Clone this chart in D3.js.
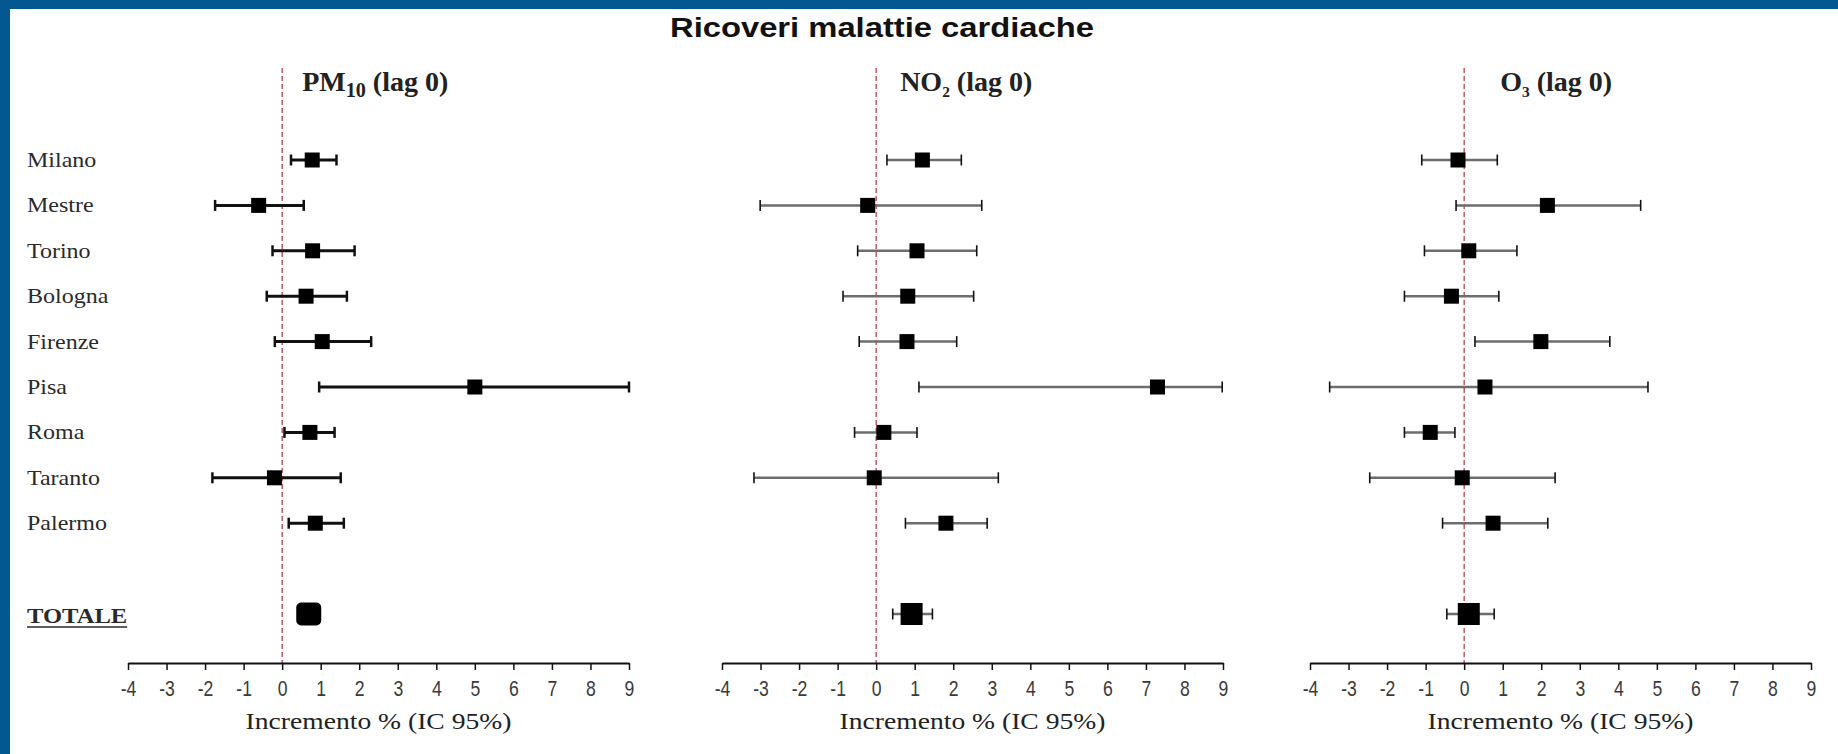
<!DOCTYPE html>
<html>
<head>
<meta charset="utf-8">
<script src="https://cdn.jsdelivr.net/npm/d3@7"></script>
<style>
    body { margin: 0; background: #fff; }
    svg { display: block; }
</style>
</head>
<body>
<div id="chart"></div>
<script>
// Values: % increase with 95% CI, lag 0
const cities = ["Milano", "Mestre", "Torino", "Bologna", "Firenze", "Pisa", "Roma", "Taranto", "Palermo", "TOTALE"];
const xTicks = [-4, -3, -2, -1, 0, 1, 2, 3, 4, 5, 6, 7, 8, 9];

const pm10Est = [0.78, -0.61, 0.79, 0.62, 1.04, 5.00, 0.72, -0.20, 0.86, 0.69];
const pm10Lo  = [0.23, -1.74, -0.25, -0.40, -0.19, 0.96, 0.06, -1.81, 0.17, 0.45];
const pm10Hi  = [1.41, 0.56, 1.88, 1.68, 2.31, 9.00, 1.36, 1.52, 1.60, 0.95];

const no2Est = [1.20, -0.22, 1.06, 0.82, 0.80, 7.30, 0.20, -0.05, 1.81, 0.92];
const no2Lo  = [0.28, -3.01, -0.48, -0.86, -0.44, 1.11, -0.56, -3.17, 0.76, 0.43];
const no2Hi  = [2.21, 2.74, 2.61, 2.53, 2.09, 8.98, 1.06, 3.17, 2.88, 1.46];

const o3Est = [-0.16, 2.16, 0.12, -0.33, 1.99, 0.54, -0.88, -0.05, 0.75, 0.12];
const o3Lo  = [-1.10, -0.21, -1.03, -1.55, 0.28, -3.49, -1.55, -2.45, -0.56, -0.45];
const o3Hi  = [0.86, 4.58, 1.37, 0.90, 3.78, 4.77, -0.24, 2.36, 2.17, 0.78];

const pollutants = ["PM", "NO", "O"];
const pollutantSubs = ["10", "2", "3"];
const lagText = " (lag 0)";
const chartTitle = "Ricoveri malattie cardiache";
const axisTitle = "Incremento % (IC 95%)";


// SETTINGS
const W = 1838, H = 754;
const BLUE = "#03598f";
const SERIF = "'Liberation Serif', 'Times New Roman', serif";
const SANS = "'Liberation Sans', Arial, sans-serif";
const AXIS_Y = 663;
// Horizontal stretch of the original slide text
const STRETCH = 1.2;

const panels = [
    { est: pm10Est, lo: pm10Lo, hi: pm10Hi, x0: 128, x1: 629, titleDx: 20, subSize: 0.72, heavy: true },
    { est: no2Est, lo: no2Lo, hi: no2Hi, x0: 722, x1: 1223, titleDx: 24, subSize: 0.55, heavy: false },
    { est: o3Est, lo: o3Lo, hi: o3Hi, x0: 1310, x1: 1811, titleDx: 36, subSize: 0.55, heavy: false }
];

// one empty slot between Palermo and TOTALE
const slots = cities.slice(0, 9).concat(["", "TOTALE"]);
const y = d3.scalePoint().domain(slots).range([160, 614]);

const svg = d3.select("#chart").append("svg")
    .attr("width", W)
    .attr("height", H);

svg.append("rect").attr("width", W).attr("height", H).attr("fill", "#fff");

// Slide frame: blue band on top and left
svg.append("rect").attr("x", 0).attr("y", 0).attr("width", W).attr("height", 9).attr("fill", BLUE);
svg.append("rect").attr("x", 0).attr("y", 0).attr("width", 10).attr("height", H).attr("fill", BLUE);

// Main title
svg.append("text")
    .attr("x", 882)
    .attr("y", 37)
    .attr("text-anchor", "middle")
    .attr("font-family", SANS)
    .attr("font-weight", "bold")
    .attr("font-size", 27)
    .attr("textLength", 424)
    .attr("lengthAdjust", "spacingAndGlyphs")
    .attr("fill", "#111")
    .text(chartTitle);

// City labels (only on the left)
const labels = svg.append("g").attr("class", "labels");
cities.forEach(function (c) {
    const isTot = c === "TOTALE";
    const t = labels.append("text")
        .attr("transform", "translate(27," + (y(c) + (isTot ? 9 : 7)) + ") scale(" + STRETCH + ",1)")
        .attr("font-family", SERIF)
        .attr("font-size", isTot ? 20.5 : 20)
        .attr("font-weight", isTot ? "bold" : "normal")
        .attr("fill", "#2a2a2a")
        .text(c);
    if (isTot) {
        const len = t.node().getComputedTextLength() * STRETCH;
        labels.append("line")
            .attr("x1", 27).attr("x2", 27 + len)
            .attr("y1", y(c) + 13).attr("y2", y(c) + 13)
            .attr("stroke", "#2a2a2a")
            .attr("stroke-width", 1.5);
    }
});

panels.forEach(function (p, k) {
    const x = d3.scaleLinear().domain([-4, 9]).range([p.x0, p.x1]);
    const g = svg.append("g").attr("class", "panel");

    // Panel title, e.g. PM10 (lag 0)
    const tt = g.append("text")
        .attr("x", x(0) + p.titleDx)
        .attr("y", 91)
        .attr("font-family", SERIF)
        .attr("font-weight", "bold")
        .attr("font-size", 28)
        .attr("fill", "#222");
    tt.append("tspan").text(pollutants[k]);
    tt.append("tspan")
        .attr("dy", 6)
        .attr("font-size", (28 * p.subSize) + "px")
        .text(pollutantSubs[k]);
    tt.append("tspan").attr("dy", -6).text(lagText);

    // Reference line at 0
    g.append("line")
        .attr("x1", x(0)).attr("x2", x(0))
        .attr("y1", 68).attr("y2", AXIS_Y)
        .attr("stroke", "#a8323f")
        .attr("stroke-width", 1.2)
        .attr("stroke-dasharray", "5,3");

    // x axis
    const axis = g.append("g")
        .attr("transform", "translate(0," + AXIS_Y + ")")
        .call(d3.axisBottom(x).tickValues(xTicks).tickSize(7).tickSizeOuter(0).tickPadding(10).tickFormat(d3.format("d")));
    axis.select(".domain").attr("stroke", "#111").attr("stroke-width", 2);
    axis.selectAll(".tick line").attr("stroke", "#111").attr("stroke-width", 1.5);
    axis.selectAll(".tick text")
        .attr("font-family", SANS)
        .attr("font-size", 22)
        .attr("fill", "#3a3a3a")
        .attr("transform", "scale(0.8,1)")
        .text(function (d) { return d < 0 ? "-" + Math.abs(d) : d; });

    g.append("text")
        .attr("transform", "translate(" + ((p.x0 + p.x1) / 2) + ",729) scale(" + STRETCH + ",1)")
        .attr("text-anchor", "middle")
        .attr("font-family", SERIF)
        .attr("font-size", 23)
        .attr("fill", "#222")
        .text(axisTitle);

    const rows = cities.map(function (c, i) {
        return { city: c, est: p.est[i], lo: p.lo[i], hi: p.hi[i], total: c === "TOTALE" };
    });

    const capH = 11;
    const lineCol = p.heavy ? "#111" : "#6d6d6d";

    // CI bars
    g.selectAll("line.ci").data(rows).join("line")
        .attr("class", "ci")
        .attr("x1", function (d) { return x(d.lo); })
        .attr("x2", function (d) { return x(d.hi); })
        .attr("y1", function (d) { return y(d.city); })
        .attr("y2", function (d) { return y(d.city); })
        .attr("stroke", lineCol)
        .attr("stroke-width", p.heavy ? 3 : 2.5);

    // caps at both ends
    ["lo", "hi"].forEach(function (side) {
        g.selectAll("line.cap-" + side).data(rows).join("line")
            .attr("class", "cap-" + side)
            .attr("x1", function (d) { return x(d[side]); })
            .attr("x2", function (d) { return x(d[side]); })
            .attr("y1", function (d) { return y(d.city) - capH / 2; })
            .attr("y2", function (d) { return y(d.city) + capH / 2; })
            .attr("stroke", "#111")
            .attr("stroke-width", p.heavy ? 2.5 : 1.6);
    });

    // point estimates
    g.selectAll("rect.est").data(rows).join("rect")
        .attr("class", "est")
        .attr("width", function (d) { return d.total ? (p.heavy ? 25 : 22) : 15; })
        .attr("height", function (d) { return d.total ? (p.heavy ? 23 : 22) : 15; })
        .attr("x", function (d) { return x(d.est) - (d.total ? (p.heavy ? 12.5 : 11) : 7.5); })
        .attr("y", function (d) { return y(d.city) - (d.total ? (p.heavy ? 11.5 : 11) : 7.5); })
        .attr("rx", function (d) { return d.total && p.heavy ? 5 : 0; })
        .attr("fill", "#000");
});
</script>
</body>
</html>
